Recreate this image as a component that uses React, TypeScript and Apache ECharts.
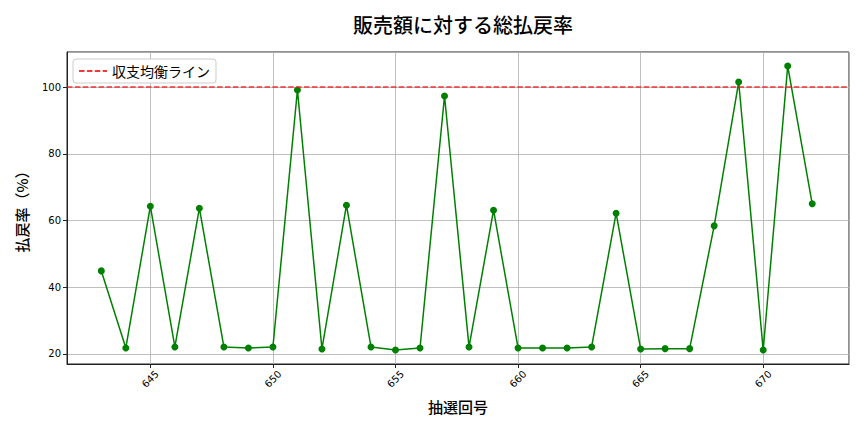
import React, { useEffect, useRef } from "react";
import * as echarts from "echarts";

const drawNumbers = [643, 644, 645, 646, 647, 648, 649, 650, 651, 652, 653, 654, 655, 656, 657, 658, 659, 660, 661, 662, 663, 664, 665, 666, 667, 668, 669, 670, 671, 672];
const payoutRates = [44.9, 21.8, 64.3, 22.1, 63.7, 22.1, 21.8, 22.1, 99.1, 21.5, 64.6, 22.1, 21.2, 21.8, 97.3, 22.1, 63.1, 21.8, 21.8, 21.8, 22.1, 62.2, 21.5, 21.6, 21.6, 58.4, 101.5, 21.2, 106.3, 65.0];
const breakEven = 100;
const titleText = "販売額に対する総払戻率";
const xName = "抽選回号";
const yName = "払戻率（%）";
const lineName = "収支均衡ライン";

const CJK = "'Noto Sans CJK JP', 'DejaVu Sans', sans-serif";
const TICK = "'DejaVu Sans', sans-serif";
const RED = "rgba(245,20,20,0.85)";

export default function App() {
  const ref = useRef<HTMLDivElement>(null);
  useEffect(() => {
    document.body.style.margin = "0";
    const chart = echarts.init(ref.current!, null, { renderer: "svg" });
    chart.setOption({
      animation: false,
      backgroundColor: "#ffffff",
      title: {
        text: titleText,
        left: 458,
        textAlign: "center",
        top: 9,
        textStyle: { fontFamily: CJK, fontSize: 20, fontWeight: 500, color: "#000" },
      },
      legend: {
        data: [lineName],
        left: 73,
        top: 59,
        orient: "vertical",
        itemWidth: 28,
        itemHeight: 12,
        itemGap: 6,
        padding: [5, 6, 5, 5],
        backgroundColor: "#ffffff",
        borderColor: "#cccccc",
        borderWidth: 1,
        borderRadius: 3,
        itemStyle: { opacity: 0 },
        textStyle: { fontFamily: CJK, fontSize: 14, color: "#000" },
      },
      grid: {
        left: 67,
        top: 52,
        right: 15,
        bottom: 68,
        show: true,
        borderColor: "#222",
        borderWidth: 1,
        backgroundColor: "transparent",
      },
      xAxis: {
        type: "value",
        min: 641.6,
        max: 673.5,
        splitNumber: 6,
        minInterval: 5,
        maxInterval: 5,
        name: xName,
        nameLocation: "middle",
        nameGap: 35,
        nameTextStyle: { fontFamily: CJK, fontSize: 15, fontWeight: 500, color: "#000" },
        axisLine: { show: true, onZero: false, lineStyle: { color: "#222", width: 1 } },
        axisTick: { show: true, length: 4, lineStyle: { color: "#222" } },
        axisLabel: {
          rotate: 45,
          align: "center",
          verticalAlign: "middle",
          showMinLabel: false,
          showMaxLabel: false,
          fontFamily: TICK,
          fontSize: 10,
          color: "#000",
          margin: 15,
        },
        splitLine: { show: true, lineStyle: { color: "#b0b0b0", width: 0.8 } },
      },
      yAxis: {
        type: "value",
        min: 17,
        max: 110.5,
        splitNumber: 5,
        minInterval: 20,
        maxInterval: 20,
        name: yName,
        nameLocation: "middle",
        nameGap: 38,
        nameRotate: 90,
        nameTextStyle: { fontFamily: CJK, fontSize: 15, fontWeight: 500, color: "#000" },
        axisLine: { show: true, lineStyle: { color: "#222", width: 1 } },
        axisTick: { show: true, length: 4, lineStyle: { color: "#222" } },
        axisLabel: {
          showMinLabel: false,
          showMaxLabel: false,
          fontFamily: TICK,
          fontSize: 10,
          color: "#000",
          margin: 6,
        },
        splitLine: { show: true, lineStyle: { color: "#b0b0b0", width: 0.8 } },
      },
      series: [
        {
          name: "払戻率",
          type: "line",
          data: drawNumbers.map((d, i) => [d, payoutRates[i]]),
          symbol: "circle",
          symbolSize: 7,
          itemStyle: { color: "#008000" },
          lineStyle: { color: "#008000", width: 1.5 },
          z: 3,
        },
        {
          name: lineName,
          type: "line",
          data: [],
          symbol: "none",
          itemStyle: { color: RED },
          lineStyle: { color: RED, width: 1.5, type: [5.5, 2.4] },
          markLine: {
            silent: true,
            symbol: "none",
            label: { show: false },
            lineStyle: { color: RED, width: 1.5, type: [5.5, 2.4] },
            data: [{ yAxis: breakEven }],
          },
          z: 4,
        },
      ],
    });
    return () => chart.dispose();
  }, []);
  return <div ref={ref} style={{ width: 864, height: 432 }} />;
}
